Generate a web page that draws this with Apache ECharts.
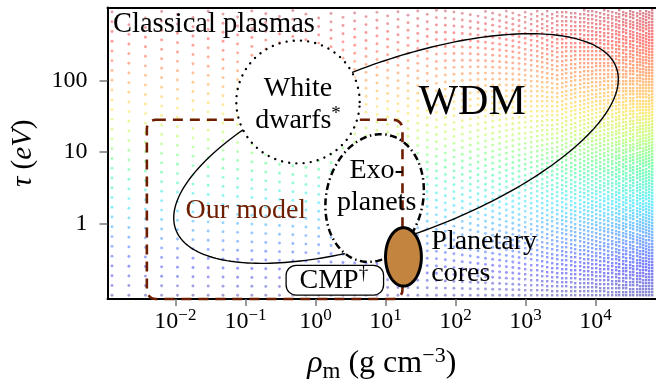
<!DOCTYPE html>
<html>
<head>
<meta charset="utf-8">
<script src="https://cdn.jsdelivr.net/npm/echarts@6/dist/echarts.min.js"></script>
<style>
  html, body { margin: 0; padding: 0; background: #fff; }
  #chart { width: 656px; height: 388px; }
</style>
</head>
<body>
<div id="chart"></div>
<script>
// Axes are in decades: log10(rho_m / g cm^-3) and log10(tau / eV)
const xRange = [-2.97, 4.864];
const yRange = [-1.055, 3.017];
const xTickExps = [-2, -1, 0, 1, 2, 3, 4];
const yTickExps = [0, 1, 2];
const yTickLabels = ['1', '10', '100'];

// Regime outlines: centre plus two conjugate half-axes, all in decades
const wdmRegion      = { center: [1.151, 1.047],  u: [3.175, 0.968], v: [0, 1.279] };
const whiteDwarfs    = { center: [-0.249, 1.697], u: [0.881, 0],     v: [0, 0.858] };
const exoplanets     = { center: [0.845, 0.355],  u: [0.703, 0.111], v: [0, 0.885] };
const planetaryCores = { center: [1.257, -0.467], u: [0.256, 0],     v: [0, 0.408] };

// Rectangular regions: [min, max] in decades
const modelBox = { x: [-2.408, 1.243], y: [-1.055, 1.448] };
const cmpBox   = { x: [-0.419, 0.973], y: [-1.0, -0.585] };

// Annotation texts and their anchors (decades)
const noteText = ['Classical plasmas', 'White\ndwarfs{sup|*}', 'WDM', 'Exo-\nplanets',
                  'Our model', 'Planetary\ncores', 'CMP{sup|†}'];
const noteAnchor = [[-2.891, 2.776], [-0.249, 1.662], [2.237, 1.683], [0.874, 0.515],
                    [-0.994, 0.176], [1.655, -0.481], [0.263, -0.793]];

// Background dot field: spacing across the plot [px from left, column step, row step]
const dotSpacing = [[0, 17, 9.8], [190, 13, 8.6], [330, 8.9, 7.3], [450, 4.7, 4.5], [545, 3, 3]];
// Dot tint by log10(tau)
const dotTint = [
  [-1.06, '#6e6eb4'], [-0.6, '#5a5aff'], [-0.2, '#5a9aff'], [0.3, '#4ae8ff'],
  [0.8, '#5aff9a'], [1.2, '#b8ff6a'], [1.6, '#ffe35a'], [2.1, '#ff9a5a'],
  [2.6, '#ff5a5a'], [3.02, '#c86878']
];

const SERIF = '"Liberation Serif", "Times New Roman", serif';
const BROWN = '#6e1e00';
const INK = '#000';

function lerpTable(table, x, idx) {
  if (x <= table[0][0]) return table[0][idx];
  for (let i = 1; i < table.length; i++) {
    if (x <= table[i][0]) {
      const a = table[i - 1], b = table[i];
      const t = (x - a[0]) / (b[0] - a[0]);
      return a[idx] + t * (b[idx] - a[idx]);
    }
  }
  return table[table.length - 1][idx];
}
function hexRgb(h) {
  return [parseInt(h.slice(1, 3), 16), parseInt(h.slice(3, 5), 16), parseInt(h.slice(5, 7), 16)];
}
function tintAt(v) {
  if (v <= dotTint[0][0]) return hexRgb(dotTint[0][1]);
  for (let i = 1; i < dotTint.length; i++) {
    if (v <= dotTint[i][0]) {
      const a = dotTint[i - 1], b = dotTint[i];
      const t = (v - a[0]) / (b[0] - a[0]);
      const ca = hexRgb(a[1]), cb = hexRgb(b[1]);
      return ca.map((c, k) => Math.round(c + t * (cb[k] - c)));
    }
  }
  return hexRgb(dotTint[dotTint.length - 1][1]);
}

let dotCanvas = null;
function buildDots(w, h) {
  const cv = document.createElement('canvas');
  cv.width = Math.ceil(w); cv.height = Math.ceil(h);
  const ctx = cv.getContext('2d');
  let x = 5;
  while (x < w - 1) {
    const cs = lerpTable(dotSpacing, x, 1);
    const rs = lerpTable(dotSpacing, x, 2);
    // denser columns read a little stronger
    ctx.globalAlpha = cs < 6 ? 0.62 + (6 - cs) / 3 * 0.16 : 0.62;
    let y = h - 4.3;
    while (y > 2) {
      const v = yRange[1] - (y / h) * (yRange[1] - yRange[0]);
      const c = tintAt(v);
      ctx.fillStyle = 'rgb(' + c[0] + ',' + c[1] + ',' + c[2] + ')';
      if (cs < 6) {
        ctx.fillRect(Math.round(x) - 1, Math.round(y) - 1, 2.4, 2.4);
      } else {
        ctx.beginPath();
        ctx.arc(x, y, 1.45, 0, Math.PI * 2);
        ctx.fill();
      }
      y -= rs;
    }
    x += cs;
  }
  return cv;
}

function ellipsePoints(shape, api) {
  const pts = [];
  const n = 240;
  for (let k = 0; k < n; k++) {
    const t = k / n * Math.PI * 2;
    pts.push(api.coord([
      shape.center[0] + shape.u[0] * Math.cos(t) + shape.v[0] * Math.sin(t),
      shape.center[1] + shape.u[1] * Math.cos(t) + shape.v[1] * Math.sin(t)
    ]));
  }
  return pts;
}
function ellipseSeries(name, shape, style, z) {
  return {
    name, type: 'custom', coordinateSystem: 'cartesian2d', silent: true, z,
    data: [shape.center],
    renderItem: (params, api) => ({ type: 'polygon', shape: { points: ellipsePoints(shape, api) }, style })
  };
}
function boxSeries(name, box, style, r, z) {
  return {
    name, type: 'custom', coordinateSystem: 'cartesian2d', silent: true, z,
    data: [[box.x[0], box.y[0]]],
    renderItem: (params, api) => {
      const p0 = api.coord([box.x[0], box.y[1]]);
      const p1 = api.coord([box.x[1], box.y[0]]);
      return { type: 'rect', shape: { x: p0[0], y: p0[1], width: p1[0] - p0[0], height: p1[1] - p0[1], r }, style };
    }
  };
}

const chart = echarts.init(document.getElementById('chart'), null, { renderer: 'canvas' });

const noteStyles = [
  { align: 'left', fontSize: 28.5 }, {}, { fontSize: 42, lineHeight: 46 }, {},
  { color: BROWN }, { align: 'left' }, {}
];

chart.setOption({
  animation: false,
  backgroundColor: '#fff',
  grid: { left: 107.5, right: -3, top: 7.5, bottom: 86 },
  xAxis: [{
    type: 'value', min: xRange[0], max: xRange[1],
    axisLine: { show: true, onZero: false, lineStyle: { color: '#000', width: 2 } },
    axisTick: { show: true, customValues: xTickExps, length: 7, lineStyle: { color: '#777', width: 1.5 } },
    axisLabel: {
      customValues: xTickExps, margin: 8, color: INK,
      formatter: v => '{b|10}{s|' + (v < 0 ? '−' : '') + Math.abs(v) + '}',
      rich: {
        b: { fontFamily: SERIF, fontSize: 24, lineHeight: 30, color: INK },
        s: { fontFamily: SERIF, fontSize: 17, lineHeight: 17, verticalAlign: 'top', color: INK }
      }
    },
    splitLine: { show: false },
    name: '{i|ρ}{sub|m} (g cm{sup|−3})',
    nameLocation: 'middle', nameGap: 46,
    nameTextStyle: {
      fontFamily: SERIF, fontSize: 32, lineHeight: 38, color: INK,
      rich: {
        i: { fontFamily: SERIF, fontStyle: 'italic', fontSize: 32, lineHeight: 38, color: INK },
        sub: { fontFamily: SERIF, fontSize: 23, lineHeight: 23, verticalAlign: 'bottom', color: INK },
        sup: { fontFamily: SERIF, fontSize: 22, lineHeight: 22, verticalAlign: 'top', color: INK }
      }
    }
  }, {
    type: 'value', position: 'top', min: xRange[0], max: xRange[1],
    axisLine: { show: true, onZero: false, lineStyle: { color: '#000', width: 2 } },
    axisTick: { show: false }, axisLabel: { show: false }, splitLine: { show: false }
  }],
  yAxis: {
    type: 'value', min: yRange[0], max: yRange[1],
    axisLine: { show: true, onZero: false, lineStyle: { color: '#000', width: 2 } },
    axisTick: { show: true, customValues: yTickExps, length: 8, lineStyle: { color: '#777', width: 1.5 } },
    axisLabel: {
      customValues: yTickExps, margin: 20, color: INK,
      fontFamily: SERIF, fontSize: 24,
      formatter: v => yTickLabels[yTickExps.indexOf(Math.round(v))]
    },
    splitLine: { show: false },
    name: '{i|τ} ({i|eV})',
    nameLocation: 'middle', nameGap: 70, nameRotate: 90,
    nameTextStyle: {
      fontFamily: SERIF, fontSize: 29, color: INK,
      rich: { i: { fontFamily: SERIF, fontStyle: 'italic', fontSize: 29, color: INK } }
    }
  },
  series: [
    {
      name: 'dot field', type: 'custom', coordinateSystem: 'cartesian2d', silent: true, z: 1,
      data: [[xRange[0], yRange[0]]],
      renderItem: (params, api) => {
        const p0 = api.coord([xRange[0], yRange[1]]);
        const p1 = api.coord([xRange[1], yRange[0]]);
        const w = p1[0] - p0[0], h = p1[1] - p0[1];
        if (!dotCanvas) dotCanvas = buildDots(w, h);
        return { type: 'image', style: { image: dotCanvas, x: Math.round(p0[0]), y: Math.round(p0[1]), width: dotCanvas.width, height: dotCanvas.height } };
      }
    },
    ellipseSeries('WDM', wdmRegion, { fill: 'none', stroke: '#000', lineWidth: 1.4 }, 3),
    ellipseSeries('Exoplanets', exoplanets,
      { fill: '#fff', stroke: '#000', lineWidth: 2.5, lineDash: [7, 3.5, 1.5, 3.5] }, 4),
    boxSeries('Our model', modelBox, { fill: 'none', stroke: BROWN, lineWidth: 2.6, lineDash: [10, 7] }, 9, 5),
    ellipseSeries('White dwarfs', whiteDwarfs,
      { fill: '#fff', stroke: '#000', lineWidth: 2.4, lineDash: [0.01, 7.2], lineCap: 'round' }, 6),
    ellipseSeries('Planetary cores', planetaryCores,
      { fill: '#c2843f', stroke: '#000', lineWidth: 3 }, 7),
    boxSeries('CMP', cmpBox, { fill: '#fff', stroke: '#000', lineWidth: 1.3 }, 10, 8),
    {
      name: 'notes', type: 'scatter', silent: true, z: 10,
      symbolSize: 1, itemStyle: { color: 'rgba(0,0,0,0)', opacity: 1 },
      data: noteText.map((t, i) => ({
        value: noteAnchor[i],
        label: Object.assign({
          show: true, position: 'inside', formatter: t, opacity: 1,
          fontFamily: SERIF, fontSize: 28, lineHeight: 32, color: INK, align: 'center',
          textBorderWidth: 0,
          rich: { sup: { fontFamily: SERIF, fontSize: 19, lineHeight: 19, verticalAlign: 'top', color: INK } }
        }, noteStyles[i])
      }))
    }
  ]
});
</script>
</body>
</html>
